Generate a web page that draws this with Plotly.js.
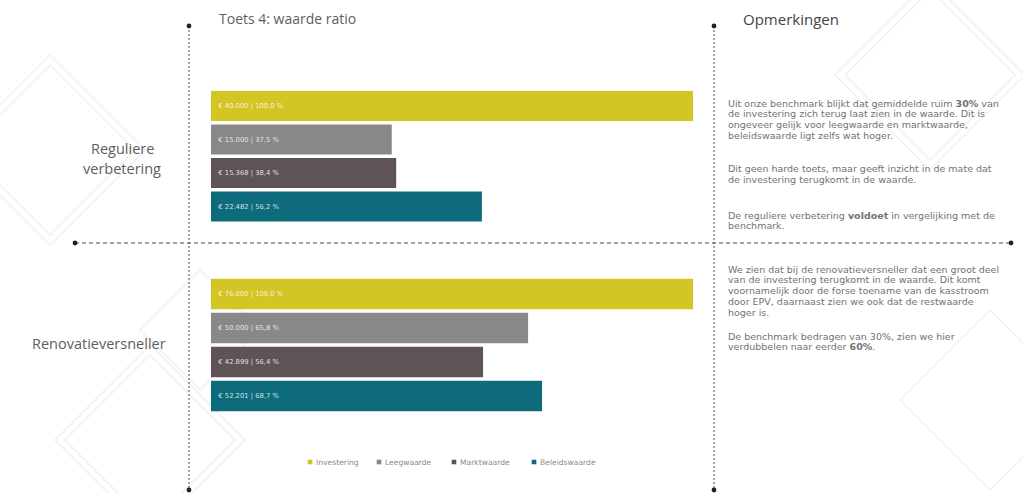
<!DOCTYPE html>
<html>
<head>
<meta charset="utf-8">
<script src="https://cdn.plot.ly/plotly-3.0.1.min.js"></script>
<style>html,body{margin:0;padding:0;background:#fff;}#chart{width:1023px;height:493px;}</style>
</head>
<body>
<div id="chart"></div>
<script>
// ---- data ----
const series = ['Investering', 'Leegwaarde', 'Marktwaarde', 'Beleidswaarde'];
const groups = ['Reguliere verbetering', 'Renovatieversneller'];
const regulier = [40000, 15000, 15368, 22482];
const renovatie = [76000, 50000, 42899, 52201];
const colors = ['#D3C523', '#888888', '#5E5458', '#0E6B7B'];

// ---- remarks text (lines) ----
const remarks = [
  ['Uit onze benchmark blijkt dat gemiddelde ruim <b>30%</b> van', 'de investering zich terug laat zien in de waarde. Dit is', 'ongeveer gelijk voor leegwaarde en marktwaarde,', 'beleidswaarde ligt zelfs wat hoger.'],
  ['Dit geen harde toets, maar geeft inzicht in de mate dat', 'de investering terugkomt in de waarde.'],
  ['De reguliere verbetering <b>voldoet</b> in vergelijking met de', 'benchmark.'],
  ['We zien dat bij de renovatieversneller dat een groot deel', 'van de investering terugkomt in de waarde. Dit komt', 'voornamelijk door de forse toename van de kasstroom', 'door EPV, daarnaast zien we ook dat de restwaarde', 'hoger is.'],
  ['De benchmark bedragen van 30%, zien we hier', 'verdubbelen naar eerder <b>60%</b>.']
];

const W = 1023, H = 493;
const px = x => x / W;
const py = y => 1 - y / H;

function fmtInt(v) {
  return String(Math.round(v)).replace(/\B(?=(\d{3})+(?!\d))/g, '.');
}
function fmtPct(v) {
  return v.toFixed(1).replace('.', ',');
}

const traces = [];
[regulier, renovatie].forEach((vals, gi) => {
  vals.forEach((v, si) => {
    traces.push({
      type: 'bar',
      orientation: 'h',
      name: series[si],
      x: [v],
      y: [series[si]],
      xaxis: gi === 0 ? 'x' : 'x2',
      yaxis: gi === 0 ? 'y' : 'y2',
      marker: { color: colors[si] },
      text: ['\u00a0\u00a0€ ' + fmtInt(v) + ' | ' + fmtPct(v / vals[0] * 100) + ' %'],
      textposition: 'inside',
      insidetextanchor: 'start',
      textfont: { family: 'DejaVu Sans', size: 6.8, color: 'rgba(255,255,255,0.82)' },
      hoverinfo: 'skip',
      showlegend: false
    });
  });
});

const dash = '#4a4a4a';
const shapes = [];
// decorative faint diamonds
function diamond(cx, cy, r) {
  return {
    type: 'path', xref: 'paper', yref: 'paper', layer: 'below',
    path: `M${px(cx)},${py(cy - r)} L${px(cx + r)},${py(cy)} L${px(cx)},${py(cy + r)} L${px(cx - r)},${py(cy)} Z`,
    line: { color: '#f1f1f1', width: 1.5 }
  };
}
[[50, 150, 95], [50, 150, 85], [150, 440, 95], [150, 440, 85], [930, 75, 95], [930, 75, 85], [990, 400, 90], [200, 330, 60]].forEach(d => shapes.push(diamond(d[0], d[1], d[2])));

// dashed guides
shapes.push({ type: 'line', xref: 'paper', yref: 'paper', x0: px(189), x1: px(189), y0: py(26), y1: py(490), line: { color: dash, width: 1, dash: '2px,2px' } });
shapes.push({ type: 'line', xref: 'paper', yref: 'paper', x0: px(714), x1: px(714), y0: py(26), y1: py(490), line: { color: dash, width: 1, dash: '2px,2px' } });
shapes.push({ type: 'line', xref: 'paper', yref: 'paper', x0: px(75), x1: px(1011), y0: py(243), y1: py(243), line: { color: dash, width: 1, dash: '4px,3px' } });
[[189, 26], [189, 490], [714, 26], [714, 490], [75, 243], [1011, 243]].forEach(p => {
  const r = 2.4;
  shapes.push({ type: 'circle', xref: 'paper', yref: 'paper', x0: px(p[0] - r), x1: px(p[0] + r), y0: py(p[1] + r), y1: py(p[1] - r), fillcolor: '#222', line: { width: 0 } });
});

const txt = '#5e5e5e';
const para = '#727272';
const annotations = [
  { text: 'Toets 4: waarde ratio', x: px(217), y: py(18), xanchor: 'left', yanchor: 'middle', font: { family: 'Open Sans', size: 14, color: txt } },
  { text: 'Opmerkingen', x: px(741), y: py(19), xanchor: 'left', yanchor: 'middle', font: { family: 'Open Sans', size: 15, color: '#444' } }
];

// group labels
const groupLabelPos = [[122, [148, 168]], [99, [343]]];
groups.forEach((g, gi) => {
  const lines = gi === 0 ? ['Reguliere', 'verbetering'] : [g];
  lines.forEach((ln, li) => {
    annotations.push({ text: ln, x: px(groupLabelPos[gi][0]), y: py(groupLabelPos[gi][1][li]), xanchor: 'center', yanchor: 'middle', font: { family: 'Open Sans', size: 14.5, color: txt } });
  });
});

// remarks (one annotation per line)
const remarkTops = [103, 169, 215, 269, 336];
remarks.forEach((lines, pi) => {
  lines.forEach((ln, li) => {
    annotations.push({ text: ln, x: px(726), y: py(remarkTops[pi] + li * 10.8), xanchor: 'left', yanchor: 'middle', align: 'left', font: { family: 'DejaVu Sans', size: 9.5, color: para } });
  });
});

// legend (custom, compact)
const legendX = [310, 379, 454, 534];
series.forEach((s, si) => {
  const cx = legendX[si], cy = 462, r = 2.3;
  shapes.push({ type: 'rect', xref: 'paper', yref: 'paper', x0: px(cx - r), x1: px(cx + r), y0: py(cy + r), y1: py(cy - r), fillcolor: colors[si], line: { width: 0 } });
  annotations.push({ text: s, x: px(cx + 4), y: py(cy), xanchor: 'left', yanchor: 'middle', font: { family: 'DejaVu Sans', size: 7.6, color: '#8a8a8a' } });
});

annotations.forEach(a => Object.assign(a, { xref: 'paper', yref: 'paper', showarrow: false }));

const layout = {
  width: W, height: H,
  margin: { l: 0, r: 0, t: 0, b: 0 },
  paper_bgcolor: '#ffffff',
  plot_bgcolor: 'rgba(0,0,0,0)',
  barmode: 'relative',
  bargap: 0.1,
  xaxis: { domain: [px(211), px(693)], range: [0, regulier[0]], visible: false, fixedrange: true, anchor: 'y' },
  yaxis: { domain: [py(223.3), py(89.3)], type: 'category', categoryarray: series, categoryorder: 'array', autorange: 'reversed', visible: false, anchor: 'x' },
  xaxis2: { domain: [px(211), px(693)], range: [0, renovatie[0]], visible: false, fixedrange: true, anchor: 'y2' },
  yaxis2: { domain: [py(413), py(277)], type: 'category', categoryarray: series, categoryorder: 'array', autorange: 'reversed', visible: false, anchor: 'x2' },
  showlegend: false,
  shapes: shapes,
  annotations: annotations
};

Plotly.newPlot('chart', traces, layout, { staticPlot: true, displayModeBar: false });
</script>
</body>
</html>
